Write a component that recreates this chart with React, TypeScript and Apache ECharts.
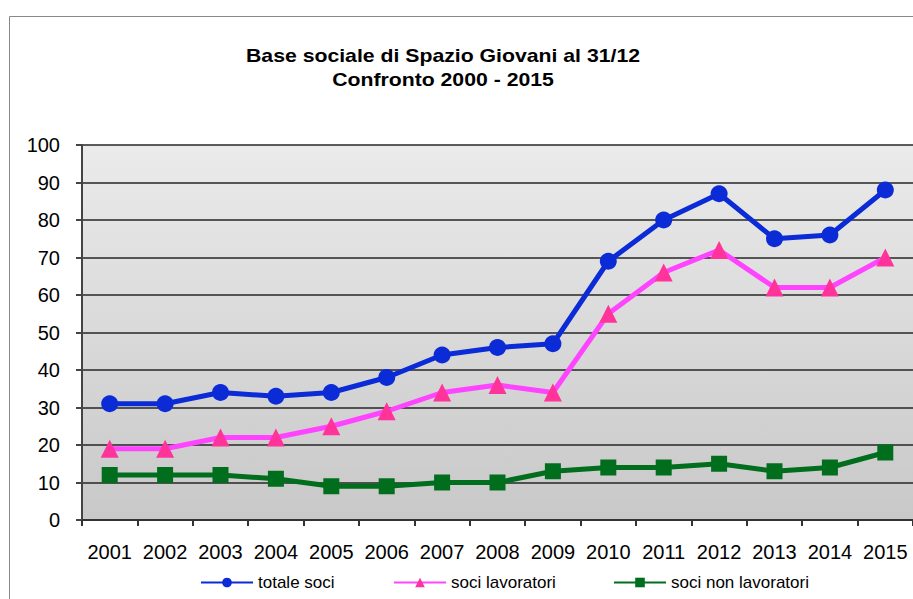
import React, { useEffect, useRef } from "react";
import * as echarts from "echarts";

const years = ["2001", "2002", "2003", "2004", "2005", "2006", "2007", "2008", "2009", "2010", "2011", "2012", "2013", "2014", "2015"];
const totaleSoci = [31, 31, 34, 33, 34, 38, 44, 46, 47, 69, 80, 87, 75, 76, 88];
const sociLavoratori = [19, 19, 22, 22, 25, 29, 34, 36, 34, 55, 66, 72, 62, 62, 70];
const sociNonLavoratori = [12, 12, 12, 11, 9, 9, 10, 10, 13, 14, 14, 15, 13, 14, 18];
const seriesNames = ["totale soci", "soci lavoratori", "soci non lavoratori"];
const titleLines = ["Base sociale di Spazio Giovani al 31/12", "Confronto 2000 - 2015"];

const FONT = "Arial, 'Liberation Sans', sans-serif";

export default function App() {
  const ref = useRef<HTMLDivElement>(null);
  useEffect(() => {
    if (!ref.current) return;
    const chart = echarts.init(ref.current, null, { renderer: "svg" });
    const legendBase = {
      top: 574,
      padding: 0,
      itemWidth: 52,
      itemHeight: 12,
      textStyle: { fontFamily: FONT, fontSize: 17, color: "#000" },
    };
    const titleStyle = (text: string) => ({
      text,
      textAlign: "center",
      textVerticalAlign: "middle",
      fontFamily: FONT,
      fontSize: 18,
      fontWeight: "bold",
      fill: "#000",
    });
    chart.setOption({
      animation: false,
      backgroundColor: "#fff",
      graphic: [
        {
          type: "rect",
          shape: { x: 9.5, y: 16.5, width: 920, height: 600 },
          style: { fill: "none", stroke: "#888", lineWidth: 1 },
          z: -1,
        },
        { type: "text", x: 443, y: 56, scaleX: 1.18, style: titleStyle(titleLines[0]) },
        { type: "text", x: 443, y: 80, scaleX: 1.18, style: titleStyle(titleLines[1]) },
      ],
      legend: [
        { ...legendBase, left: 200, data: [seriesNames[0]] },
        { ...legendBase, left: 393, data: [seriesNames[1]] },
        { ...legendBase, left: 613, data: [seriesNames[2]] },
      ],
      grid: {
        left: 82,
        right: -5,
        top: 145,
        bottom: 79,
        show: true,
        borderWidth: 0,
        backgroundColor: new echarts.graphic.LinearGradient(0, 0, 0, 1, [
          { offset: 0, color: "#ebebeb" },
          { offset: 1, color: "#c8c8c8" },
        ]),
      },
      xAxis: {
        type: "category",
        data: years,
        boundaryGap: true,
        axisLine: { lineStyle: { color: "#333", width: 2 } },
        axisTick: { show: true, length: 6, lineStyle: { color: "#333", width: 2 } },
        axisLabel: { fontFamily: FONT, fontSize: 20, color: "#000", margin: 22, interval: 0 },
        splitLine: { show: false },
      },
      yAxis: {
        type: "value",
        min: 0,
        max: 100,
        interval: 10,
        axisLine: { show: true, lineStyle: { color: "#444", width: 2 } },
        axisTick: { show: true, length: 6, lineStyle: { color: "#444", width: 2 } },
        axisLabel: { fontFamily: FONT, fontSize: 20, color: "#000", margin: 22 },
        splitLine: { show: true, lineStyle: { color: "#262626", width: 1.6 } },
      },
      series: [
        {
          name: seriesNames[0],
          type: "line",
          data: totaleSoci,
          symbol: "circle",
          symbolSize: 17,
          lineStyle: { color: "#0a2bd6", width: 5 },
          itemStyle: { color: "#0a2bd6" },
          z: 4,
        },
        {
          name: seriesNames[1],
          type: "line",
          data: sociLavoratori,
          symbol: "triangle",
          symbolSize: 18,
          lineStyle: { color: "#ff44ff", width: 5 },
          itemStyle: { color: "#ff3399" },
          z: 3,
        },
        {
          name: seriesNames[2],
          type: "line",
          data: sociNonLavoratori,
          symbol: "rect",
          symbolSize: 16,
          lineStyle: { color: "#006e1c", width: 5 },
          itemStyle: { color: "#006e1c" },
          z: 2,
        },
      ],
    });
    return () => chart.dispose();
  }, []);
  return <div ref={ref} style={{ width: 913, height: 599, position: "absolute", left: 0, top: 0 }} />;
}
